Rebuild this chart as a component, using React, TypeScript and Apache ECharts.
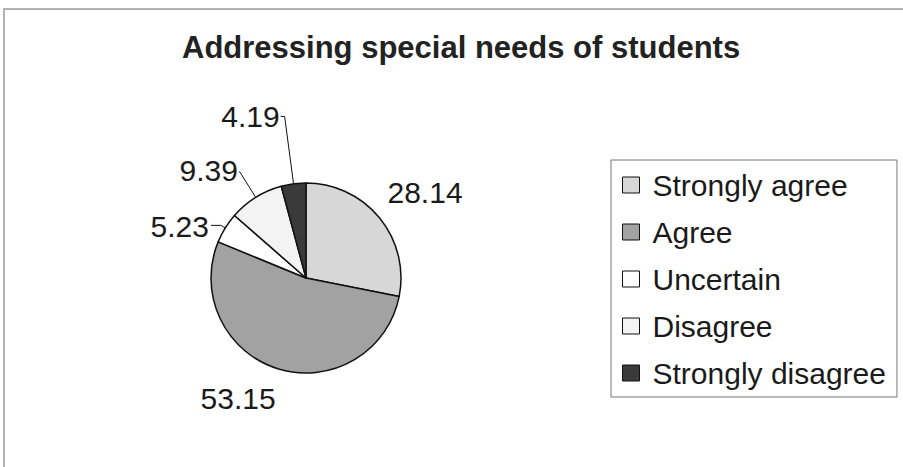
import React, { useEffect, useRef } from "react";
import * as echarts from "echarts";

const title = "Addressing special needs of students";
const categories = ["Strongly agree", "Agree", "Uncertain", "Disagree", "Strongly disagree"];
const values = [28.14, 53.15, 5.23, 9.39, 4.19];

// styles (kept apart from the data)
const sliceColors = ["#d7d7d7", "#a2a2a2", "#ffffff", "#f3f3f3", "#3a3a3a"];
const showLines = [false, false, true, true, true];
const lineLen = [26, 31, 5, 30, 68];
const lineLen2 = [0, 0, 10, 1, 4];
const labelShift: [number, number][] = [[-13, -9], [7, 0], [-1, 1], [0, -1], [0, 0]];

const FONT = "'Liberation Sans', Arial, sans-serif";

export default function App() {
  const ref = useRef<HTMLDivElement>(null);
  useEffect(() => {
    if (!ref.current) return;
    const chart = echarts.init(ref.current, undefined, { renderer: "svg" });
    const data = categories.map((name, i) => ({
      name,
      value: values[i],
      itemStyle: { color: sliceColors[i] },
      labelLine: {
        show: showLines[i],
        length: lineLen[i],
        length2: lineLen2[i],
        lineStyle: { color: "#111", width: 1 },
      },
    }));
    chart.setOption({
      animation: false,
      backgroundColor: "#ffffff",
      title: {
        text: title,
        left: 177,
        top: 27,
        textStyle: { fontFamily: FONT, fontSize: 31, fontWeight: "bold", color: "#222" },
      },
      legend: {
        orient: "vertical",
        left: 611,
        top: 160,
        padding: [10, 11, 9, 11],
        borderColor: "#777",
        borderWidth: 1,
        itemWidth: 17,
        itemHeight: 16,
        itemGap: 17,
        icon: "rect",
        data: categories,
        itemStyle: { borderColor: "#111", borderWidth: 1 },
        textStyle: { fontFamily: FONT, fontSize: 30, lineHeight: 30, color: "#1a1a1a", padding: [0, 0, 0, 8] },
      },
      graphic: [
        {
          type: "rect",
          shape: { x: 4, y: 9, width: 920, height: 480 },
          style: { fill: "none", stroke: "#9a9a9a", lineWidth: 1.5 },
          silent: true,
          z: -1,
        },
      ],
      series: [
        {
          type: "pie",
          center: [306, 278],
          radius: 95,
          startAngle: 90,
          clockwise: true,
          avoidLabelOverlap: false,
          itemStyle: { borderColor: "#111", borderWidth: 1.5 },
          label: {
            show: true,
            position: "outside",
            formatter: (p: any) => values[p.dataIndex].toFixed(2),
            fontFamily: FONT,
            fontSize: 30,
            color: "#1a1a1a",
            distanceToLabelLine: 1,
          },
          labelLayout: (p: any) => ({ dx: labelShift[p.dataIndex][0], dy: labelShift[p.dataIndex][1] }),
          emphasis: { disabled: true },
          data,
        },
      ],
    });
    return () => chart.dispose();
  }, []);
  return <div ref={ref} style={{ position: "fixed", left: 0, top: 0, width: 903, height: 467 }} />;
}
